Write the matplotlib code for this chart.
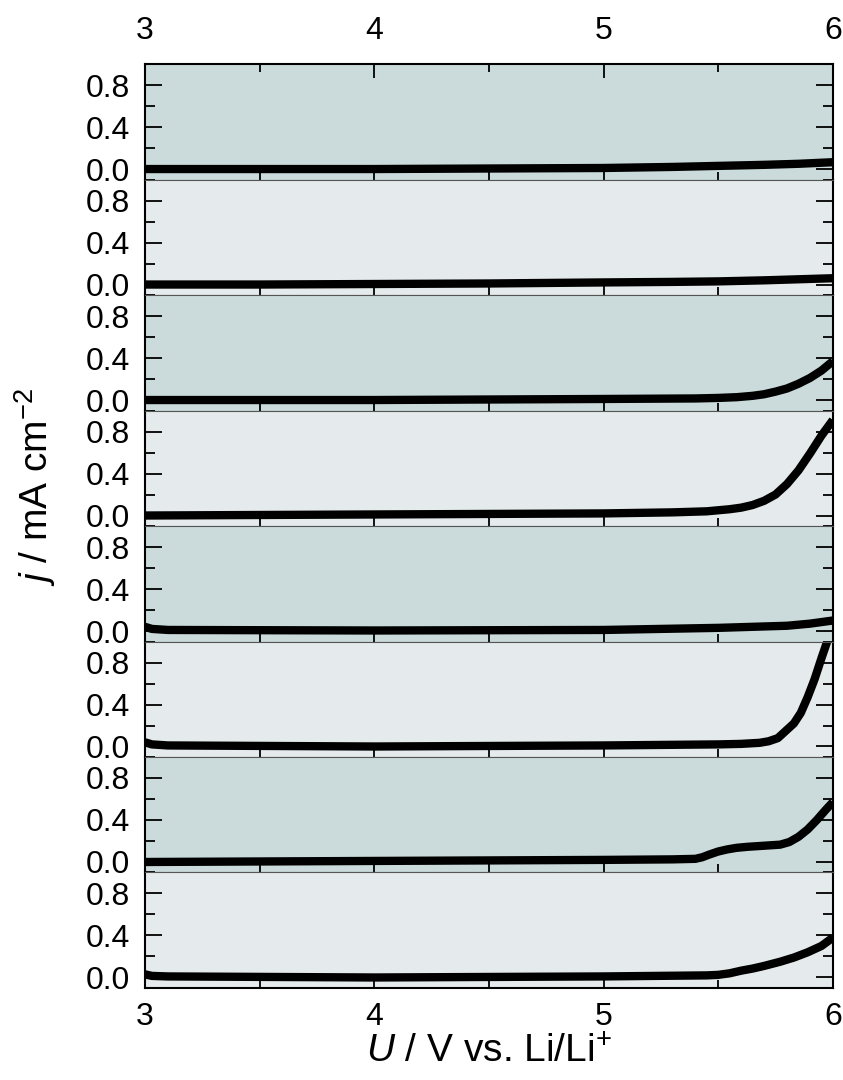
import numpy as np
import matplotlib
matplotlib.use('Agg')
import matplotlib.pyplot as plt
from matplotlib.ticker import MultipleLocator

plt.rcParams.update({
    'font.family': 'Liberation Sans',
    'font.size': 23,
    'mathtext.fontset': 'custom',
    'mathtext.rm': 'Liberation Sans',
    'mathtext.it': 'Liberation Sans:italic',
})

# voltage (V vs Li/Li+) and current density (mA cm-2), one pair per panel, top to bottom
u1 = [3.0, 3.5, 4.0, 4.5, 5.0, 5.3, 5.5, 5.7, 5.85, 6.0]
j1 = [0.0, 0.0, 0.0, 0.005, 0.01, 0.02, 0.03, 0.04, 0.05, 0.065]
u2 = [3.0, 3.5, 4.0, 4.5, 5.0, 5.3, 5.5, 5.7, 5.85, 6.0]
j2 = [0.0, 0.0, 0.005, 0.01, 0.02, 0.025, 0.03, 0.04, 0.05, 0.06]
u3 = [3.0, 4.0, 5.0, 5.4, 5.5, 5.58, 5.65, 5.7, 5.75, 5.8, 5.85, 5.9, 5.95, 6.0]
j3 = [0.0, 0.0, 0.01, 0.015, 0.02, 0.027, 0.04, 0.055, 0.08, 0.11, 0.155, 0.21, 0.28, 0.37]
u4 = [3.0, 4.0, 5.0, 5.3, 5.45, 5.55, 5.6, 5.65, 5.7, 5.75, 5.8, 5.85, 5.9, 5.95, 6.0]
j4 = [0.0, 0.01, 0.02, 0.03, 0.04, 0.06, 0.075, 0.1, 0.14, 0.2, 0.3, 0.43, 0.59, 0.76, 0.91]
u5 = [3.0, 3.03, 3.1, 4.0, 5.0, 5.5, 5.8, 5.9, 6.0]
j5 = [0.04, 0.02, 0.01, 0.005, 0.01, 0.03, 0.05, 0.07, 0.1]
u6 = [3.0, 3.03, 3.1, 4.0, 5.0, 5.5, 5.6, 5.68, 5.72, 5.76, 5.8, 5.83, 5.86, 5.89, 5.92, 5.95, 5.98, 6.0]
j6 = [0.04, 0.02, 0.01, 0.0, 0.01, 0.02, 0.025, 0.035, 0.05, 0.08, 0.16, 0.22, 0.32, 0.47, 0.64, 0.84, 1.03, 1.1]
u7 = [3.0, 4.0, 5.0, 5.3, 5.4, 5.43, 5.46, 5.5, 5.54, 5.58, 5.63, 5.7, 5.77, 5.81, 5.85, 5.89, 5.93, 5.97, 6.0]
j7 = [0.0, 0.01, 0.02, 0.025, 0.03, 0.045, 0.07, 0.1, 0.12, 0.135, 0.145, 0.155, 0.165, 0.19, 0.24, 0.31, 0.4, 0.5, 0.57]
u8 = [3.0, 3.03, 3.1, 4.0, 5.0, 5.45, 5.5, 5.55, 5.6, 5.65, 5.7, 5.77, 5.83, 5.89, 5.95, 6.0]
j8 = [0.03, 0.015, 0.01, 0.0, 0.01, 0.02, 0.025, 0.04, 0.065, 0.085, 0.11, 0.15, 0.19, 0.24, 0.3, 0.38]

panels = [(u1, j1), (u2, j2), (u3, j3), (u4, j4), (u5, j5), (u6, j6), (u7, j7), (u8, j8)]
xticks = [3, 4, 5, 6]
yticks = [0.0, 0.4, 0.8]

DARK = '#cbdbdb'
LIGHT = '#e5ebec'

fig, axes = plt.subplots(len(panels), 1, figsize=(8.43, 10.8), dpi=100, sharex=True)
fig.subplots_adjust(left=0.172, right=0.988, top=0.9407, bottom=0.0852, hspace=0)

n = len(panels)
for i, (ax, (u, j)) in enumerate(zip(axes, panels)):
    ax.set_facecolor(DARK if i % 2 == 0 else LIGHT)
    ax.plot(u, j, color='black', lw=6, solid_capstyle='butt', solid_joinstyle='round')
    ax.set_xlim(3, 6)
    ax.set_ylim(-0.1, 1.0)
    ax.set_yticks(yticks)
    ax.set_yticklabels([f'{v:.1f}' for v in yticks])
    ax.yaxis.set_minor_locator(MultipleLocator(0.2))
    ax.set_xticks(xticks)
    ax.xaxis.set_minor_locator(MultipleLocator(0.5))
    ax.tick_params(axis='y', which='major', direction='in', length=12, width=1.3,
                   left=True, right=True, labelsize=23, pad=11)
    ax.tick_params(axis='y', which='minor', direction='in', length=7, width=1.3,
                   left=True, right=True)
    ax.tick_params(axis='x', which='major', direction='in', length=10, width=1.3,
                   top=(i == 0), bottom=True, labeltop=(i == 0), labelbottom=(i == n - 1),
                   labelsize=23, pad=10)
    ax.tick_params(axis='x', which='minor', direction='in', length=6, width=1.3,
                   top=(i == 0), bottom=True)
    for s in ['left', 'right']:
        ax.spines[s].set_linewidth(1.5)
        ax.spines[s].set_color('black')
    ax.spines['top'].set_linewidth(1.5 if i == 0 else 0.8)
    ax.spines['top'].set_color('black' if i == 0 else '#555555')
    ax.spines['bottom'].set_linewidth(1.5 if i == n - 1 else 0.8)
    ax.spines['bottom'].set_color('black' if i == n - 1 else '#555555')

axes[0].xaxis.set_tick_params(which='major', pad=13)
axes[-1].set_xlabel(r'$U$ / V vs. Li/Li$^{+}$', fontsize=28, labelpad=2)
fig.text(0.042, 0.549, r'$j$ / mA cm$^{-2}$', rotation=90, fontsize=28,
         ha='center', va='center')

fig.savefig('out.png', dpi=100)
